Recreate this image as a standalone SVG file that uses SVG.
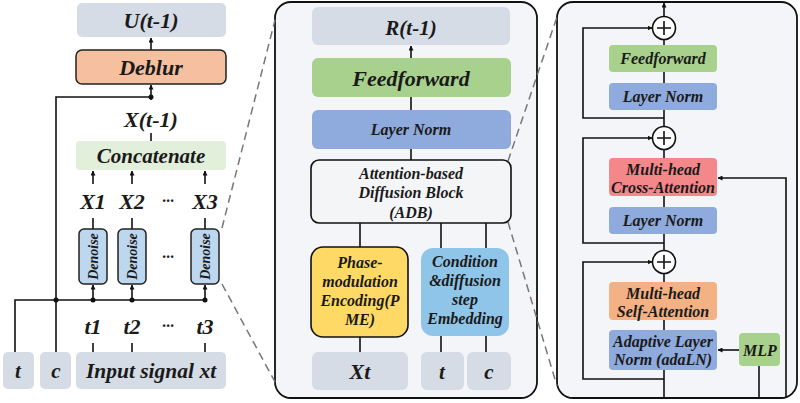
<svg xmlns="http://www.w3.org/2000/svg" width="800" height="403" viewBox="0 0 800 403">
<defs>
<marker id="ah" viewBox="0 0 10 10" refX="9" refY="5" markerWidth="5" markerHeight="5" orient="auto-start-reverse" markerUnits="userSpaceOnUse"><path d="M0,0 L10,5 L0,10 z" fill="#111"/></marker>
<style>
text{font-family:"Liberation Serif","Times New Roman",serif;font-weight:bold;font-style:italic;fill:#1a1a1a;text-anchor:middle}
.gray{fill:#d6dce5}
.ff{fill:#a9d18e}
.ln{fill:#8faadc}
.c{stroke:#111;stroke-width:1.6;fill:none}
.a{stroke:#111;stroke-width:1.6;fill:none;marker-end:url(#ah)}
.d{stroke:#777;stroke-width:1.5;fill:none;stroke-dasharray:8 5}
.panel{fill:#f3f5f8;stroke:#111;stroke-width:1.8}
.dot{fill:#111}
.rt{font-size:16px}
</style>
</defs>
<rect width="800" height="403" fill="#ffffff"/>

<!-- panels -->
<g id="panel-mid"><rect class="panel" x="275" y="2" width="262" height="396" rx="16"/></g>
<g id="panel-right"><rect class="panel" x="557" y="2" width="240" height="396" rx="16"/></g>

<!-- connectors -->
<g id="connectors">
<!-- left -->
<line class="a" x1="151" y1="50" x2="151" y2="38"/>
<line class="a" x1="151" y1="100" x2="151" y2="85"/>
<polyline class="c" points="56,352 56,97 151,97"/>
<line class="c" x1="151" y1="133" x2="151" y2="141"/>
<line class="a" x1="93" y1="184" x2="93" y2="171"/>
<line class="a" x1="132" y1="184" x2="132" y2="171"/>
<line class="a" x1="205" y1="184" x2="205" y2="171"/>
<line class="c" x1="93" y1="218" x2="93" y2="229"/>
<line class="c" x1="132" y1="218" x2="132" y2="229"/>
<line class="c" x1="205" y1="218" x2="205" y2="229"/>
<polyline class="c" points="15,352 15,300 205,300"/>
<line class="a" x1="93" y1="300" x2="93" y2="285"/>
<line class="a" x1="132" y1="300" x2="132" y2="285"/>
<line class="a" x1="205" y1="300" x2="205" y2="285"/>
<circle class="dot" cx="56" cy="300" r="2.5"/>
<circle class="dot" cx="93" cy="300" r="2.5"/>
<circle class="dot" cx="132" cy="300" r="2.5"/>
<circle class="dot" cx="205" cy="300" r="2.5"/>
<circle class="dot" cx="151" cy="97" r="2.5"/>
<line class="c" x1="93" y1="343" x2="93" y2="352"/>
<line class="c" x1="132" y1="343" x2="132" y2="352"/>
<line class="c" x1="205" y1="343" x2="205" y2="352"/>
<!-- dashed zoom lines -->
<line class="d" x1="222" y1="228" x2="275" y2="20"/>
<line class="d" x1="222" y1="284" x2="275" y2="382"/>
<line class="d" x1="508" y1="161" x2="557" y2="17"/>
<line class="d" x1="508" y1="222" x2="557" y2="386"/>
<!-- middle -->
<line class="a" x1="411" y1="58" x2="411" y2="46"/>
<line class="c" x1="411" y1="97" x2="411" y2="110"/>
<line class="c" x1="411" y1="149" x2="411" y2="160"/>
<line class="c" x1="360" y1="223" x2="360" y2="247"/>
<line class="c" x1="441" y1="223" x2="441" y2="248"/>
<line class="c" x1="486" y1="223" x2="486" y2="248"/>
<line class="c" x1="360" y1="337" x2="360" y2="352"/>
<line class="c" x1="441" y1="336" x2="441" y2="352"/>
<line class="c" x1="486" y1="336" x2="486" y2="352"/>
<!-- right -->
<line class="a" x1="664" y1="16" x2="664" y2="3"/>
<line class="c" x1="664" y1="40" x2="664" y2="45"/>
<line class="c" x1="664" y1="72" x2="664" y2="83"/>
<line class="c" x1="664" y1="110" x2="664" y2="126"/>
<line class="c" x1="664" y1="150" x2="664" y2="158"/>
<line class="c" x1="664" y1="196" x2="664" y2="207"/>
<line class="c" x1="664" y1="234" x2="664" y2="250"/>
<line class="c" x1="664" y1="274" x2="664" y2="282"/>
<line class="c" x1="664" y1="320" x2="664" y2="330"/>
<line class="c" x1="664" y1="370" x2="664" y2="397"/>
<polyline class="a" points="664,118 583,118 583,28 652,28"/>
<polyline class="a" points="664,243 583,243 583,138 652,138"/>
<polyline class="a" points="664,379 583,379 583,262 652,262"/>
<polyline class="a" points="786,397 786,178 718,178"/>
<line class="a" x1="739" y1="350" x2="718" y2="350"/>
<line class="c" x1="759" y1="366" x2="759" y2="397"/>
</g>

<!-- left nodes -->
<g id="u"><rect class="gray" x="77" y="3" width="149" height="34" rx="5"/><text x="151" y="28" font-size="22">U(t-1)</text></g>
<g id="deblur"><rect x="76" y="50" width="150" height="34" rx="6" fill="#f6c0a0" stroke="#222" stroke-width="1.5"/><text x="151" y="75" font-size="22">Deblur</text></g>
<g id="xt1"><text x="151" y="127" font-size="22">X(t-1)</text></g>
<g id="concat"><rect x="76" y="141" width="150" height="29" rx="4" fill="#e2efda"/><text x="151" y="163" font-size="21">Concatenate</text></g>
<g id="x1"><text x="93" y="209" font-size="22">X1</text></g>
<g id="x2"><text x="132" y="209" font-size="22">X2</text></g>
<g id="xdots"><text x="168" y="206" font-size="16">···</text></g>
<g id="x3"><text x="205" y="209" font-size="22">X3</text></g>
<g id="den1"><rect x="79" y="229" width="28" height="55" rx="5" fill="#bdd7ee" stroke="#222" stroke-width="1.5"/><text transform="translate(98,256.5) rotate(-90)" font-size="14">Denoise</text></g>
<g id="den2"><rect x="118" y="229" width="28" height="55" rx="5" fill="#bdd7ee" stroke="#222" stroke-width="1.5"/><text transform="translate(137,256.5) rotate(-90)" font-size="14">Denoise</text></g>
<g id="dendots"><text x="168" y="262" font-size="16">···</text></g>
<g id="den3"><rect x="191" y="229" width="28" height="55" rx="5" fill="#bdd7ee" stroke="#222" stroke-width="1.5"/><text transform="translate(210,256.5) rotate(-90)" font-size="14">Denoise</text></g>
<g id="t1"><text x="93" y="334" font-size="22">t1</text></g>
<g id="t2"><text x="132" y="334" font-size="22">t2</text></g>
<g id="tdots"><text x="168" y="331" font-size="16">···</text></g>
<g id="t3"><text x="205" y="334" font-size="22">t3</text></g>
<g id="tbox"><rect class="gray" x="3" y="352" width="31" height="37" rx="5"/><text x="18" y="378" font-size="21">t</text></g>
<g id="cbox"><rect class="gray" x="40" y="352" width="31" height="37" rx="5"/><text x="56" y="378" font-size="21">c</text></g>
<g id="input"><rect class="gray" x="76" y="352" width="150" height="37" rx="5"/><text x="151" y="378" font-size="21.5">Input signal xt</text></g>

<!-- middle nodes -->
<g id="r"><rect class="gray" x="312" y="7" width="198" height="38" rx="6"/><text x="411" y="35" font-size="21">R(t-1)</text></g>
<g id="ff-mid"><rect class="ff" x="312" y="58" width="199" height="39" rx="6"/><text x="411" y="86" font-size="22">Feedforward</text></g>
<g id="ln-mid"><rect class="ln" x="312" y="110" width="199" height="39" rx="6"/><text x="411" y="135" font-size="16">Layer Norm</text></g>
<g id="adb"><rect x="311" y="160" width="200" height="63" rx="8" fill="#f4f5f7" stroke="#111" stroke-width="1.6"/><text x="411" y="179" font-size="16">Attention-based</text><text x="411" y="198" font-size="16">Diffusion Block</text><text x="411" y="218" font-size="16">(ADB)</text></g>
<g id="pme"><rect x="311" y="247" width="97" height="90" rx="12" fill="#ffd966" stroke="#111" stroke-width="1.6"/><text x="360" y="268" font-size="16">Phase-</text><text x="360" y="287" font-size="16">modulation</text><text x="360" y="306" font-size="16">Encoding(P</text><text x="360" y="325" font-size="16">ME)</text></g>
<g id="cond"><rect x="421" y="248" width="88" height="88" rx="12" fill="#8fc5e8"/><text x="465" y="267" font-size="16">Condition</text><text x="465" y="286" font-size="16">&amp;diffusion</text><text x="465" y="305" font-size="16">step</text><text x="465" y="324" font-size="16">Embedding</text></g>
<g id="xt"><rect class="gray" x="312" y="352" width="96" height="38" rx="6"/><text x="360" y="379" font-size="22">Xt</text></g>
<g id="t-mid"><rect class="gray" x="421" y="352" width="43" height="38" rx="6"/><text x="442" y="379" font-size="21">t</text></g>
<g id="c-mid"><rect class="gray" x="467" y="352" width="44" height="38" rx="6"/><text x="489" y="379" font-size="21">c</text></g>

<!-- right nodes -->
<g id="plus1"><circle cx="664" cy="28" r="11.5" fill="#fff" stroke="#111" stroke-width="1.6"/><path d="M657,28 H671 M664,21 V35" stroke="#111" stroke-width="1.6"/></g>
<g id="ff-r"><rect class="ff" x="609" y="45" width="108" height="27" rx="4"/><text class="rt" x="663" y="64">Feedforward</text></g>
<g id="ln-r1"><rect class="ln" x="609" y="83" width="108" height="27" rx="4"/><text class="rt" x="663" y="102">Layer Norm</text></g>
<g id="plus2"><circle cx="664" cy="138" r="11.5" fill="#fff" stroke="#111" stroke-width="1.6"/><path d="M657,138 H671 M664,131 V145" stroke="#111" stroke-width="1.6"/></g>
<g id="cross"><rect x="609" y="158" width="108" height="38" rx="4" fill="#f4878a"/><text class="rt" x="663" y="175">Multi-head</text><text class="rt" x="663" y="193">Cross-Attention</text></g>
<g id="ln-r2"><rect class="ln" x="609" y="207" width="108" height="27" rx="4"/><text class="rt" x="663" y="226">Layer Norm</text></g>
<g id="plus3"><circle cx="664" cy="262" r="11.5" fill="#fff" stroke="#111" stroke-width="1.6"/><path d="M657,262 H671 M664,255 V269" stroke="#111" stroke-width="1.6"/></g>
<g id="self"><rect x="609" y="282" width="108" height="38" rx="4" fill="#f4b183"/><text class="rt" x="663" y="299">Multi-head</text><text class="rt" x="663" y="317">Self-Attention</text></g>
<g id="adaln"><rect class="ln" x="609" y="330" width="108" height="40" rx="4"/><text class="rt" x="663" y="347">Adaptive Layer</text><text class="rt" x="663" y="365">Norm (adaLN)</text></g>
<g id="mlp"><rect class="ff" x="739" y="333" width="41" height="33" rx="4"/><text x="760" y="356" font-size="16">MLP</text></g>
</svg>
